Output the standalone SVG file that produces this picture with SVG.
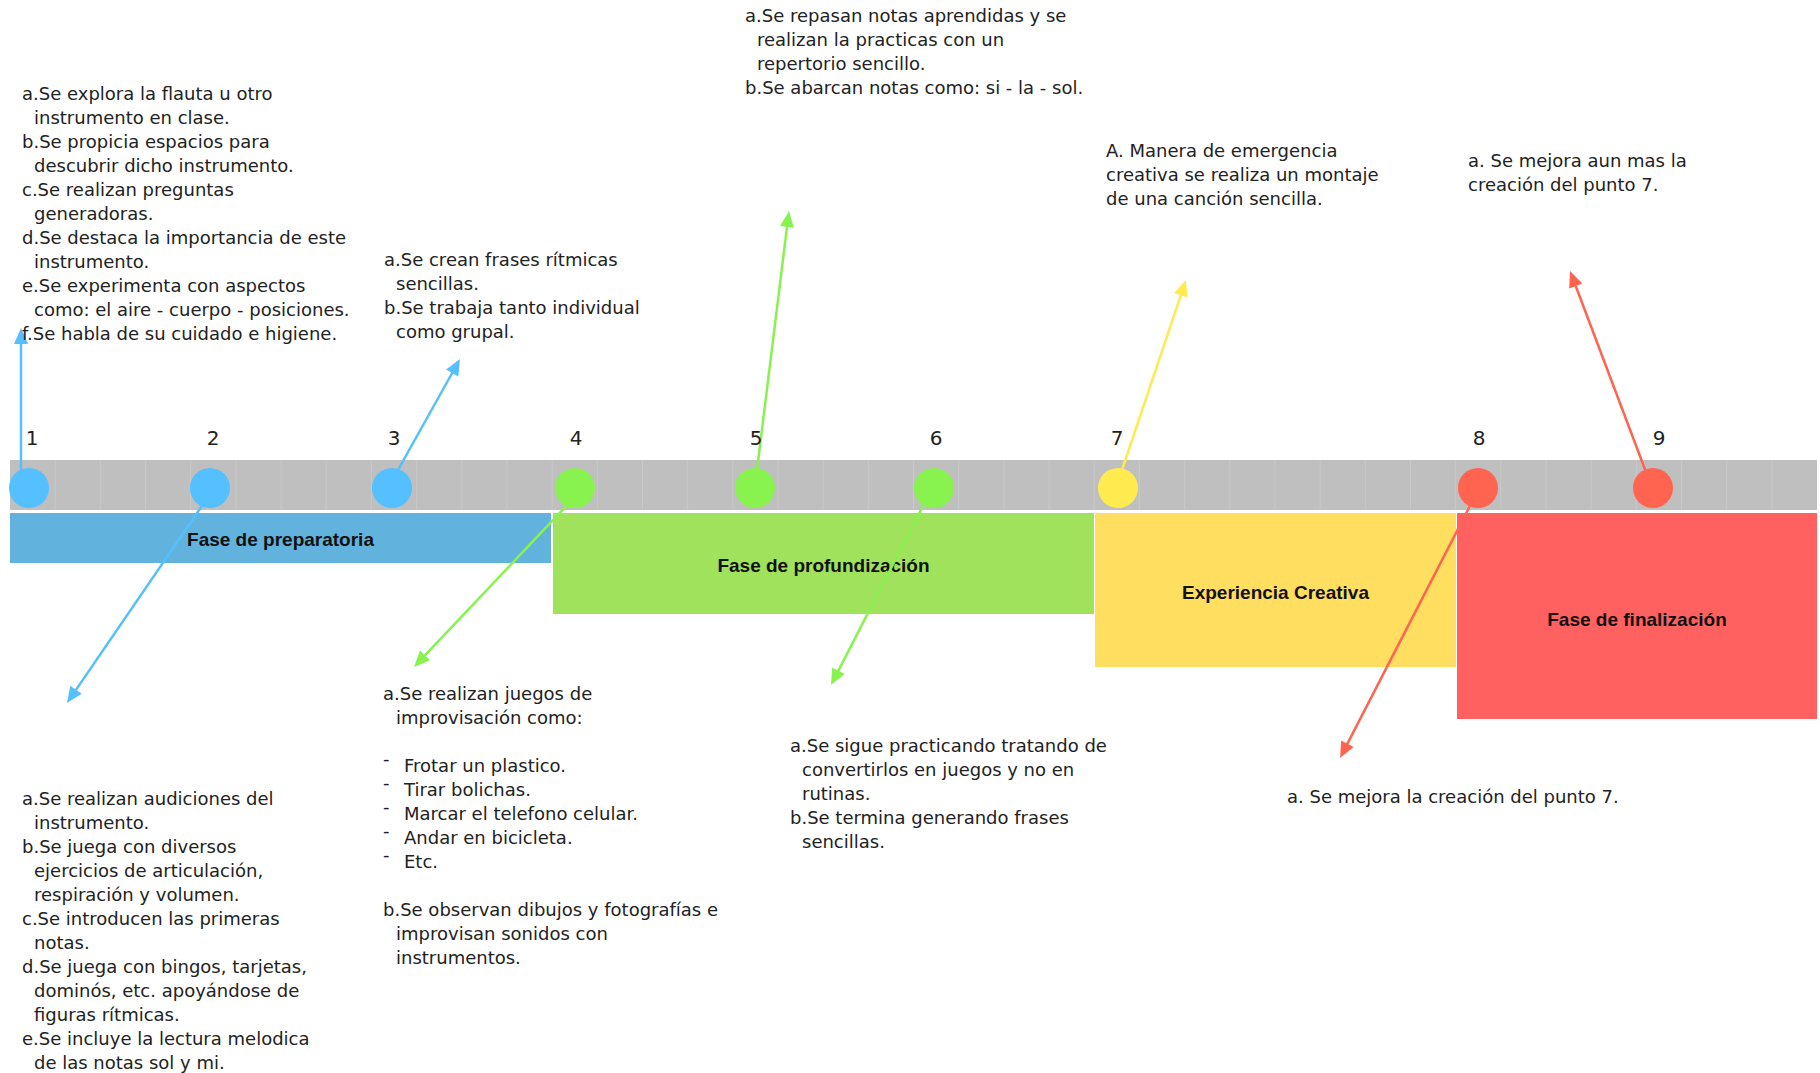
<svg xmlns="http://www.w3.org/2000/svg" width="1820" height="1073" viewBox="0 0 1820 1073">
<style>
.t{font-family:"DejaVu Sans","Liberation Sans",sans-serif;font-size:18px;fill:#222}
.n{font-family:"DejaVu Sans","Liberation Sans",sans-serif;font-size:20px;fill:#222;text-anchor:middle}
.lb{font-family:"Liberation Sans",Arial,sans-serif;font-size:19px;font-weight:bold;fill:#111;text-anchor:middle}
.c{stroke-width:2.5;fill:none}
.grid line{stroke:#ffffff;stroke-opacity:0.15;stroke-width:1}
</style>
<defs>
<marker id="mb" markerUnits="userSpaceOnUse" markerWidth="16" markerHeight="14" refX="8" refY="7" orient="auto" overflow="visible"><path d="M0,0 L16,7 L0,14 z" fill="#55C0FF"/></marker>
<marker id="mg" markerUnits="userSpaceOnUse" markerWidth="16" markerHeight="14" refX="8" refY="7" orient="auto" overflow="visible"><path d="M0,0 L16,7 L0,14 z" fill="#88F24E"/></marker>
<marker id="my" markerUnits="userSpaceOnUse" markerWidth="16" markerHeight="14" refX="8" refY="7" orient="auto" overflow="visible"><path d="M0,0 L16,7 L0,14 z" fill="#FFEB4F"/></marker>
<marker id="mr" markerUnits="userSpaceOnUse" markerWidth="16" markerHeight="14" refX="8" refY="7" orient="auto" overflow="visible"><path d="M0,0 L16,7 L0,14 z" fill="#FF6450"/></marker>
</defs>
<rect width="1820" height="1073" fill="#ffffff"/>

<g id="band">
<rect x="10" y="460" width="1807" height="50" fill="#BFBFBF"/>
<g class="grid">
<line x1="55.2" y1="460" x2="55.2" y2="510"/><line x1="100.4" y1="460" x2="100.4" y2="510"/><line x1="145.5" y1="460" x2="145.5" y2="510"/><line x1="190.7" y1="460" x2="190.7" y2="510"/><line x1="235.9" y1="460" x2="235.9" y2="510"/><line x1="281.1" y1="460" x2="281.1" y2="510"/><line x1="326.2" y1="460" x2="326.2" y2="510"/><line x1="371.4" y1="460" x2="371.4" y2="510"/><line x1="416.6" y1="460" x2="416.6" y2="510"/><line x1="461.8" y1="460" x2="461.8" y2="510"/><line x1="506.9" y1="460" x2="506.9" y2="510"/><line x1="552.1" y1="460" x2="552.1" y2="510"/><line x1="597.3" y1="460" x2="597.3" y2="510"/><line x1="642.5" y1="460" x2="642.5" y2="510"/><line x1="687.7" y1="460" x2="687.7" y2="510"/><line x1="732.8" y1="460" x2="732.8" y2="510"/><line x1="778" y1="460" x2="778" y2="510"/><line x1="823.2" y1="460" x2="823.2" y2="510"/><line x1="868.4" y1="460" x2="868.4" y2="510"/><line x1="913.5" y1="460" x2="913.5" y2="510"/><line x1="958.7" y1="460" x2="958.7" y2="510"/><line x1="1003.9" y1="460" x2="1003.9" y2="510"/><line x1="1049.1" y1="460" x2="1049.1" y2="510"/><line x1="1094.2" y1="460" x2="1094.2" y2="510"/><line x1="1139.4" y1="460" x2="1139.4" y2="510"/><line x1="1184.6" y1="460" x2="1184.6" y2="510"/><line x1="1229.8" y1="460" x2="1229.8" y2="510"/><line x1="1274.9" y1="460" x2="1274.9" y2="510"/><line x1="1320.1" y1="460" x2="1320.1" y2="510"/><line x1="1365.3" y1="460" x2="1365.3" y2="510"/><line x1="1410.5" y1="460" x2="1410.5" y2="510"/><line x1="1455.6" y1="460" x2="1455.6" y2="510"/><line x1="1500.8" y1="460" x2="1500.8" y2="510"/><line x1="1546" y1="460" x2="1546" y2="510"/><line x1="1591.2" y1="460" x2="1591.2" y2="510"/><line x1="1636.4" y1="460" x2="1636.4" y2="510"/><line x1="1681.5" y1="460" x2="1681.5" y2="510"/><line x1="1726.7" y1="460" x2="1726.7" y2="510"/><line x1="1771.9" y1="460" x2="1771.9" y2="510"/>
</g>
</g>

<g id="phase-preparatoria">
<rect x="10" y="513" width="541" height="50" fill="#62B2DE"/>
<text class="lb" x="280.5" y="546">Fase de preparatoria</text>
</g>
<g id="phase-profundizacion">
<rect x="553" y="513" width="541" height="101" fill="#A0E25C"/>
<text class="lb" x="823.5" y="572">Fase de profundización</text>
</g>
<g id="phase-experiencia">
<rect x="1095" y="513" width="361" height="154" fill="#FFDE60"/>
<text class="lb" x="1275.5" y="599">Experiencia Creativa</text>
</g>
<g id="phase-finalizacion">
<rect x="1457" y="513" width="360" height="206" fill="#FF6060"/>
<text class="lb" x="1637" y="626">Fase de finalización</text>
</g>

<g id="connectors">
<line class="c" stroke="#55C0FF" x1="21" y1="476" x2="21" y2="336" marker-end="url(#mb)"/>
<line class="c" stroke="#55C0FF" x1="206" y1="500" x2="71.5" y2="696.4" marker-end="url(#mb)"/>
<line class="c" stroke="#55C0FF" x1="398" y1="470" x2="456.1" y2="366" marker-end="url(#mb)"/>
<line class="c" stroke="#88F24E" x1="572" y1="500" x2="419.5" y2="661.2" marker-end="url(#mg)"/>
<line class="c" stroke="#88F24E" x1="757" y1="470" x2="788" y2="218.9" marker-end="url(#mg)"/>
<line class="c" stroke="#88F24E" x1="926" y1="500" x2="834.7" y2="677.9" marker-end="url(#mg)"/>
<line class="c" stroke="#FFEB4F" x1="1122" y1="470" x2="1183.4" y2="287.6" marker-end="url(#my)"/>
<line class="c" stroke="#FF6450" x1="1473" y1="500" x2="1343.7" y2="750.9" marker-end="url(#mr)"/>
<line class="c" stroke="#FF6450" x1="1646" y1="472" x2="1572.9" y2="278.5" marker-end="url(#mr)"/>
</g>

<g id="m1"><circle cx="29" cy="488" r="20" fill="#55C0FF"/><text class="n" x="32" y="445">1</text></g>
<g id="m2"><circle cx="210" cy="488" r="20" fill="#55C0FF"/><text class="n" x="213" y="445">2</text></g>
<g id="m3"><circle cx="392" cy="488" r="20" fill="#55C0FF"/><text class="n" x="394" y="445">3</text></g>
<g id="m4"><circle cx="575" cy="488" r="20" fill="#88F24E"/><text class="n" x="576" y="445">4</text></g>
<g id="m5"><circle cx="755" cy="488" r="20" fill="#88F24E"/><text class="n" x="756" y="445">5</text></g>
<g id="m6"><circle cx="934" cy="488" r="20" fill="#88F24E"/><text class="n" x="936" y="445">6</text></g>
<g id="m7"><circle cx="1118" cy="488" r="20" fill="#FFEB4F"/><text class="n" x="1117" y="445">7</text></g>
<g id="m8"><circle cx="1478" cy="488" r="20" fill="#FF6450"/><text class="n" x="1479" y="445">8</text></g>
<g id="m9"><circle cx="1653" cy="488" r="20" fill="#FF6450"/><text class="n" x="1659" y="445">9</text></g>

<g id="note1">
<text class="t" x="22" y="100">a.Se explora la flauta u otro</text>
<text class="t" x="34" y="124">instrumento en clase.</text>
<text class="t" x="22" y="148">b.Se propicia espacios para</text>
<text class="t" x="34" y="172">descubrir dicho instrumento.</text>
<text class="t" x="22" y="196">c.Se realizan preguntas</text>
<text class="t" x="34" y="220">generadoras.</text>
<text class="t" x="22" y="244">d.Se destaca la importancia de este</text>
<text class="t" x="34" y="268">instrumento.</text>
<text class="t" x="22" y="292">e.Se experimenta con aspectos</text>
<text class="t" x="34" y="316">como: el aire - cuerpo - posiciones.</text>
<text class="t" x="22" y="340">f.Se habla de su cuidado e higiene.</text>
</g>

<g id="note2">
<text class="t" x="22" y="805">a.Se realizan audiciones del</text>
<text class="t" x="34" y="829">instrumento.</text>
<text class="t" x="22" y="853">b.Se juega con diversos</text>
<text class="t" x="34" y="877">ejercicios de articulación,</text>
<text class="t" x="34" y="901">respiración y volumen.</text>
<text class="t" x="22" y="925">c.Se introducen las primeras</text>
<text class="t" x="34" y="949">notas.</text>
<text class="t" x="22" y="973">d.Se juega con bingos, tarjetas,</text>
<text class="t" x="34" y="997">dominós, etc. apoyándose de</text>
<text class="t" x="34" y="1021">figuras rítmicas.</text>
<text class="t" x="22" y="1045">e.Se incluye la lectura melodica</text>
<text class="t" x="34" y="1069">de las notas sol y mi.</text>
</g>

<g id="note3">
<text class="t" x="384" y="266">a.Se crean frases rítmicas</text>
<text class="t" x="396" y="290">sencillas.</text>
<text class="t" x="384" y="314">b.Se trabaja tanto individual</text>
<text class="t" x="396" y="338">como grupal.</text>
</g>

<g id="note4">
<text class="t" x="383" y="700">a.Se realizan juegos de</text>
<text class="t" x="396" y="724">improvisación como:</text>
<text class="t" x="383" y="765">-</text><text class="t" x="404" y="772">Frotar un plastico.</text>
<text class="t" x="383" y="789">-</text><text class="t" x="404" y="796">Tirar bolichas.</text>
<text class="t" x="383" y="813">-</text><text class="t" x="404" y="820">Marcar el telefono celular.</text>
<text class="t" x="383" y="837">-</text><text class="t" x="404" y="844">Andar en bicicleta.</text>
<text class="t" x="383" y="861">-</text><text class="t" x="404" y="868">Etc.</text>
<text class="t" x="383" y="916">b.Se observan dibujos y fotografías e</text>
<text class="t" x="396" y="940">improvisan sonidos con</text>
<text class="t" x="396" y="964">instrumentos.</text>
</g>

<g id="note5">
<text class="t" x="745" y="22">a.Se repasan notas aprendidas y se</text>
<text class="t" x="757" y="46">realizan la practicas con un</text>
<text class="t" x="757" y="70">repertorio sencillo.</text>
<text class="t" x="745" y="94">b.Se abarcan notas como: si - la - sol.</text>
</g>

<g id="note6">
<text class="t" x="790" y="752">a.Se sigue practicando tratando de</text>
<text class="t" x="802" y="776">convertirlos en juegos y no en</text>
<text class="t" x="802" y="800">rutinas.</text>
<text class="t" x="790" y="824">b.Se termina generando frases</text>
<text class="t" x="802" y="848">sencillas.</text>
</g>

<g id="note7">
<text class="t" x="1106" y="157">A. Manera de emergencia</text>
<text class="t" x="1106" y="181">creativa se realiza un montaje</text>
<text class="t" x="1106" y="205">de una canción sencilla.</text>
</g>

<g id="note8">
<text class="t" x="1287" y="803">a. Se mejora la creación del punto 7.</text>
</g>

<g id="note9">
<text class="t" x="1468" y="167">a. Se mejora aun mas la</text>
<text class="t" x="1468" y="191">creación del punto 7.</text>
</g>
</svg>
